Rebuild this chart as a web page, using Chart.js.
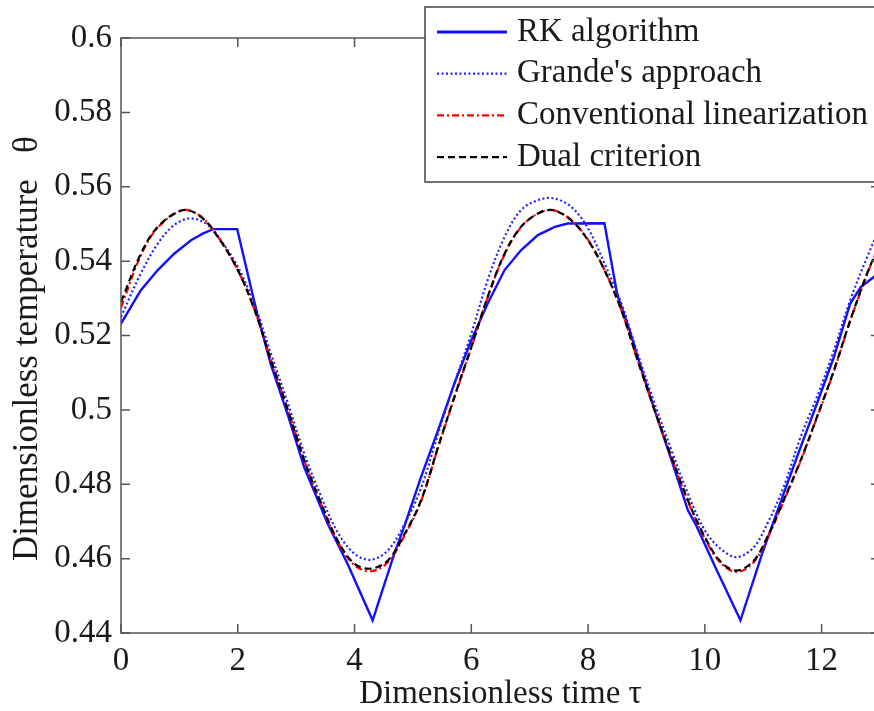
<!DOCTYPE html>
<html lang="en">
<head>
    <meta charset="UTF-8">
    <title>Dimensionless temperature</title>
    <script src="https://cdn.jsdelivr.net/npm/chart.js"></script>
    <style>
        body {
            margin: 0;
            padding: 0;
            background: #ffffff;
            overflow: hidden;
        }

        .chart-box {
            width: 884px;
            height: 711px;
        }
    </style>
</head>
<body>
    <div class="chart-box">
        <canvas id="thetaChart"></canvas>
    </div>

    <script>
        // Axis ticks
        const xTicks = [0, 2, 4, 6, 8, 10, 12];
        const yTicks = [0.44, 0.46, 0.48, 0.5, 0.52, 0.54, 0.56, 0.58, 0.6];

        // RK algorithm (solid blue)
        const tauRK = [0, 0.17, 0.34, 0.63, 0.91, 1.2, 1.4, 1.58, 1.99, 2.33, 2.57, 2.86, 3.14, 3.54, 3.88, 4.31,
            4.68, 4.86, 5.14, 5.43, 5.71, 6.0, 6.28, 6.57, 6.85, 7.14, 7.43, 7.65, 8.28, 8.5, 8.72, 8.85, 9.14,
            9.43, 9.71, 9.85, 10.2, 10.61, 10.98, 11.35, 11.64, 11.92, 12.21, 12.49, 12.67, 12.9, 13.0];
        const rk = [0.5232, 0.5277, 0.5322, 0.5376, 0.5420, 0.5456, 0.5474, 0.5486, 0.5486, 0.5260, 0.5120, 0.4985,
            0.4845, 0.4694, 0.4586, 0.4434, 0.4613, 0.4690, 0.4820, 0.4945, 0.5071, 0.5187, 0.5286, 0.5376, 0.5429,
            0.5470, 0.5492, 0.5501, 0.5502, 0.5310, 0.5210, 0.5142, 0.4999, 0.4864, 0.4730, 0.4690, 0.4570, 0.4434,
            0.4613, 0.4775, 0.4900, 0.5017, 0.5142, 0.5286, 0.5330, 0.5358, 0.5370];

        // Grande's approach (dotted blue)
        const tauGrande = [0, 0.34, 0.63, 0.91, 1.2, 1.49, 1.71, 2.0, 2.29, 2.57, 2.86, 3.14, 3.43, 3.71, 4.0, 4.28,
            4.57, 4.86, 5.14, 5.43, 5.71, 6.0, 6.28, 6.57, 6.85, 7.14, 7.4, 7.71, 8.0, 8.28, 8.57, 8.85, 9.14, 9.43,
            9.71, 10.0, 10.28, 10.55, 10.84, 11.07, 11.35, 11.64, 11.92, 12.21, 12.49, 12.78, 13.0];
        const grande = [0.5250, 0.5367, 0.5447, 0.5497, 0.5515, 0.5497, 0.5456, 0.5385, 0.5282, 0.5150, 0.5017,
            0.4882, 0.4766, 0.4671, 0.4613, 0.4597, 0.4622, 0.4694, 0.4790, 0.4936, 0.5071, 0.5205, 0.5349, 0.5465,
            0.5537, 0.5564, 0.5569, 0.5546, 0.5488, 0.5394, 0.5286, 0.5151, 0.5017, 0.4891, 0.4775, 0.4676, 0.4625,
            0.4604, 0.4631, 0.4694, 0.4793, 0.4927, 0.5035, 0.5160, 0.5295, 0.5411, 0.5490];

        // Conventional linearization (dash-dot red) and dual criterion (dashed black)
        const tauSmooth = [0, 0.34, 0.63, 1.06, 1.37, 1.66, 2.0, 2.29, 2.57, 2.86, 3.14, 3.43, 3.71, 4.0, 4.28, 4.57,
            4.86, 5.14, 5.43, 5.71, 6.0, 6.28, 6.57, 6.85, 7.14, 7.4, 7.71, 8.0, 8.28, 8.57, 8.85, 9.14, 9.43, 9.71,
            10.0, 10.28, 10.55, 10.84, 11.07, 11.35, 11.64, 11.92, 12.21, 12.49, 12.78, 13.0];
        const conventional = [0.5275, 0.5415, 0.5490, 0.5537, 0.5520, 0.5466, 0.5376, 0.5268, 0.5133, 0.4999,
            0.4864, 0.4746, 0.4646, 0.4582, 0.4566, 0.4590, 0.4663, 0.4755, 0.4898, 0.5033, 0.5167, 0.5302, 0.5418,
            0.5491, 0.5528, 0.5537, 0.5511, 0.5457, 0.5377, 0.5268, 0.5133, 0.4999, 0.4871, 0.4754, 0.4654, 0.4587,
            0.4564, 0.4591, 0.4654, 0.4754, 0.4862, 0.4979, 0.5104, 0.5239, 0.5365, 0.5448];
        const dual = [0.5290, 0.5420, 0.5492, 0.5537, 0.5519, 0.5465, 0.5376, 0.5268, 0.5133, 0.4999, 0.4864,
            0.4748, 0.4649, 0.4586, 0.4573, 0.4595, 0.4667, 0.4757, 0.4900, 0.5035, 0.5169, 0.5304, 0.5420, 0.5492,
            0.5528, 0.5537, 0.5510, 0.5456, 0.5376, 0.5268, 0.5133, 0.4999, 0.4873, 0.4757, 0.4658, 0.4590, 0.4568,
            0.4595, 0.4658, 0.4757, 0.4864, 0.4981, 0.5106, 0.5241, 0.5367, 0.5450];

        const legendLabels = ['RK algorithm', "Grande's approach", 'Conventional linearization', 'Dual criterion'];

        const FONT = "'Liberation Serif', 'Times New Roman', serif";
        const TEXT_COLOR = '#1a1a1a';
        const AXIS_COLOR = '#555555';

        function points(xs, ys) {
            return xs.map((v, i) => ({ x: v, y: ys[i] }));
        }

        // Box round the plot with inward ticks on all four sides
        const framePlugin = {
            id: 'frame',
            afterDatasetsDraw(chart) {
                const { ctx, chartArea: a, scales } = chart;
                ctx.save();
                ctx.strokeStyle = AXIS_COLOR;
                ctx.lineWidth = 1.5;
                ctx.strokeRect(a.left, a.top, a.right - a.left, a.bottom - a.top);
                ctx.beginPath();
                xTicks.forEach(v => {
                    const px = scales.x.getPixelForValue(v);
                    ctx.moveTo(px, a.bottom);
                    ctx.lineTo(px, a.bottom - 9);
                    ctx.moveTo(px, a.top);
                    ctx.lineTo(px, a.top + 9);
                });
                yTicks.forEach(v => {
                    const py = scales.y.getPixelForValue(v);
                    ctx.moveTo(a.left, py);
                    ctx.lineTo(a.left + 9, py);
                    ctx.moveTo(a.right, py);
                    ctx.lineTo(a.right - 9, py);
                });
                ctx.stroke();
                ctx.restore();
            }
        };

        // Legend box in the upper right corner, running off the edge
        const boxLegendPlugin = {
            id: 'boxLegend',
            afterDraw(chart) {
                const ctx = chart.ctx;
                const left = 425, top = 7, width = 480, height = 175;
                ctx.save();
                ctx.fillStyle = '#ffffff';
                ctx.fillRect(left, top, width, height);
                ctx.strokeStyle = '#444444';
                ctx.lineWidth = 1.5;
                ctx.strokeRect(left, top, width, height);

                chart.data.datasets.forEach((ds, i) => {
                    const y = 32 + i * 41.7;
                    ctx.beginPath();
                    ctx.strokeStyle = ds.borderColor;
                    ctx.lineWidth = i === 0 ? 3 : ds.borderWidth;
                    ctx.setLineDash(ds.borderDash || []);
                    ctx.moveTo(437, y);
                    ctx.lineTo(507, y);
                    ctx.stroke();
                    ctx.setLineDash([]);
                    ctx.fillStyle = TEXT_COLOR;
                    ctx.font = '33px ' + FONT;
                    ctx.textBaseline = 'middle';
                    ctx.textAlign = 'left';
                    ctx.fillText(legendLabels[i], 517, y);
                });
                ctx.restore();
            }
        };

        const ctx = document.getElementById('thetaChart').getContext('2d');
        const thetaChart = new Chart(ctx, {
            type: 'line',
            data: {
                datasets: [
                    {
                        label: legendLabels[0],
                        data: points(tauRK, rk),
                        borderColor: '#1010ff',
                        borderWidth: 2.4,
                        pointRadius: 0,
                        tension: 0,
                        order: 3
                    },
                    {
                        label: legendLabels[1],
                        data: points(tauGrande, grande),
                        borderColor: '#2020ff',
                        borderWidth: 2.2,
                        borderDash: [2, 2.5],
                        pointRadius: 0,
                        tension: 0.35,
                        order: 2
                    },
                    {
                        label: legendLabels[2],
                        data: points(tauSmooth, conventional),
                        borderColor: '#ff0000',
                        borderWidth: 2.2,
                        borderDash: [7, 3, 2, 3],
                        pointRadius: 0,
                        tension: 0.35,
                        order: 1
                    },
                    {
                        label: legendLabels[3],
                        data: points(tauSmooth, dual),
                        borderColor: '#000000',
                        borderWidth: 2.2,
                        borderDash: [7, 4],
                        pointRadius: 0,
                        tension: 0.35,
                        order: 0
                    }
                ]
            },
            options: {
                responsive: true,
                maintainAspectRatio: false,
                animation: false,
                layout: {
                    padding: { top: 38, right: 4, left: 0, bottom: 0 }
                },
                plugins: {
                    legend: { display: false },
                    tooltip: { enabled: false }
                },
                scales: {
                    x: {
                        type: 'linear',
                        min: 0,
                        max: 13,
                        grid: { display: false, drawTicks: false },
                        border: { display: false },
                        afterBuildTicks: (scale) => {
                            scale.ticks = xTicks.map(v => ({ value: v }));
                        },
                        afterFit: (scale) => {
                            scale.height = 78;
                        },
                        ticks: {
                            color: TEXT_COLOR,
                            font: { family: FONT, size: 33 },
                            padding: 9,
                            maxRotation: 0,
                            callback: (v) => String(v)
                        },
                        title: {
                            display: true,
                            text: 'Dimensionless time τ',
                            color: TEXT_COLOR,
                            font: { family: FONT, size: 33, lineHeight: 1.0 },
                            padding: { top: 0, bottom: 0 }
                        }
                    },
                    y: {
                        min: 0.44,
                        max: 0.6,
                        grid: { display: false, drawTicks: false },
                        border: { display: false },
                        afterBuildTicks: (scale) => {
                            scale.ticks = yTicks.map(v => ({ value: v }));
                        },
                        afterFit: (scale) => {
                            scale.width = 121;
                        },
                        ticks: {
                            color: TEXT_COLOR,
                            font: { family: FONT, size: 33 },
                            padding: 9,
                            callback: (v) => String(Math.round(v * 100) / 100)
                        },
                        title: {
                            display: true,
                            text: 'Dimensionless temperature   θ   ',
                            color: TEXT_COLOR,
                            font: { family: FONT, size: 35, lineHeight: 1.0 },
                            padding: { top: 10, bottom: 0 }
                        }
                    }
                }
            },
            plugins: [framePlugin, boxLegendPlugin]
        });
    </script>
</body>
</html>
